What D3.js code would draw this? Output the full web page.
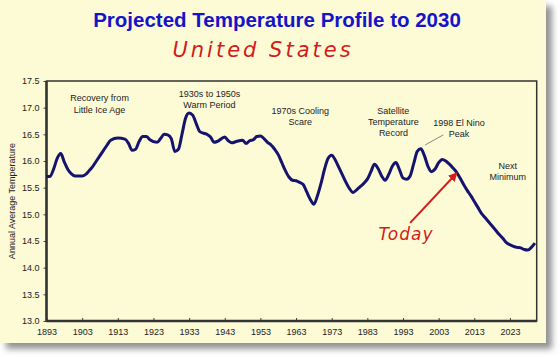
<!DOCTYPE html>
<html><head><meta charset="utf-8">
<script src="https://cdn.jsdelivr.net/npm/d3@7"></script>
<style>body{margin:0;background:#fff}svg{display:block}</style>
</head><body>
<script>
const years = [1893,1894,1895,1896,1897,1898,1899,1900,1901,1903,1904,1905,1906,1907,1908,1909,1910,1911,1913,1915,1916,1917,1918,1919,1920,1921,1922,1924,1925,1926,1927,1928,1929,1930,1931,1932,1933,1934,1935,1936,1938,1939,1940,1941,1943,1944,1945,1946,1948,1949,1950,1951,1952,1953,1954,1955,1956,1957,1958,1959,1960,1961,1962,1963,1964,1965,1966,1967,1968,1969,1970,1971,1972,1973,1974,1975,1976,1977,1978,1979,1980,1981,1982,1983,1984,1985,1986,1987,1988,1989,1990,1991,1992,1993,1994,1995,1996,1997,1998,1999,2000,2001,2002,2003,2004,2005,2006,2007,2008,2009,2010,2011,2012,2013,2014,2015,2016,2017,2018,2019,2020,2021,2022,2023,2024,2025,2026,2027,2028,2029,2030];
const temps = [15.71,15.71,15.85,16.05,16.14,15.98,15.84,15.76,15.72,15.72,15.75,15.82,15.90,16.00,16.10,16.20,16.30,16.39,16.43,16.41,16.33,16.20,16.22,16.37,16.46,16.46,16.40,16.35,16.42,16.50,16.49,16.42,16.18,16.22,16.50,16.80,16.90,16.86,16.70,16.55,16.50,16.45,16.35,16.37,16.45,16.38,16.34,16.36,16.39,16.33,16.38,16.40,16.46,16.47,16.42,16.35,16.30,16.22,16.12,15.97,15.82,15.70,15.64,15.63,15.60,15.56,15.42,15.28,15.19,15.35,15.58,15.85,16.05,16.11,16.02,15.88,15.74,15.60,15.48,15.41,15.46,15.52,15.58,15.66,15.80,15.94,15.86,15.72,15.64,15.75,15.90,15.97,15.84,15.68,15.66,15.72,15.95,16.18,16.23,16.10,15.90,15.80,15.85,15.97,16.03,16.00,15.94,15.87,15.79,15.68,15.56,15.45,15.35,15.24,15.13,15.02,14.94,14.86,14.78,14.70,14.62,14.55,14.47,14.43,14.40,14.38,14.37,14.34,14.33,14.38,14.46];
const xTicks = [1893,1903,1913,1923,1933,1943,1953,1963,1973,1983,1993,2003,2013,2023];
const yTicks = [13.0,13.5,14.0,14.5,15.0,15.5,16.0,16.5,17.0,17.5];
const titleText = "Projected Temperature Profile to 2030";
const subtitleText = "United States";
const yLabel = "Annual Average Temperature";
const notes = [
  {lines:["Recovery from","Little Ice Age"], x:1907.9, y:17.176},
  {lines:["1930s to 1950s","Warm Period"], x:1938.7, y:17.256},
  {lines:["1970s Cooling","Scare"], x:1964.2, y:16.937},
  {lines:["Satellite","Temperature","Record"], x:1990.3, y:16.943},
  {lines:["1998 El Nino","Peak"], x:2008.7, y:16.718},
  {lines:["Next","Minimum"], x:2022.4, y:15.906}
];

const W = 560, H = 357;
const svg = d3.select("body").append("svg").attr("width", W).attr("height", H);
const defs = svg.append("defs");
const f = defs.append("filter").attr("id","sh").attr("x","-5%").attr("y","-5%").attr("width","115%").attr("height","115%");
f.append("feDropShadow").attr("dx",6).attr("dy",6).attr("stdDeviation",3).attr("flood-color","#777").attr("flood-opacity",0.8);
defs.append("marker").attr("id","ah").attr("viewBox","0 0 10 10").attr("refX",9).attr("refY",5)
  .attr("markerWidth",4.5).attr("markerHeight",4.5).attr("orient","auto")
  .append("path").attr("d","M0,0L10,5L0,10Z").attr("fill","#d41c1c");

svg.append("rect").attr("x",0).attr("y",0).attr("width",546).attr("height",343)
  .attr("fill","#fdfbd6").attr("filter","url(#sh)");

const m = {l:46.5, r:536.7, t:81, b:321};
const x = d3.scaleLinear().domain([1893, 2030.5]).range([m.l, m.r]);
const y = d3.scaleLinear().domain([13, 17.5]).range([m.b, m.t]);

svg.append("text").attr("x",277).attr("y",27).attr("text-anchor","middle")
  .attr("font-family","Liberation Sans, Arial, sans-serif").attr("font-weight","bold")
  .attr("font-size",20.5).attr("fill","#1414c8").text(titleText);
svg.append("text").attr("x",263).attr("y",57).attr("text-anchor","middle")
  .attr("font-family","DejaVu Sans, sans-serif").attr("font-style","italic")
  .attr("font-size",21).attr("letter-spacing",3).attr("fill","#d01c1c").text(subtitleText);

// axes
const ya = svg.append("g").attr("transform",`translate(${m.l},0)`)
  .call(d3.axisLeft(y).tickValues(yTicks).tickFormat(d3.format(".1f")).tickSize(3).tickPadding(4));
const xa = svg.append("g").attr("transform",`translate(0,${m.b})`)
  .call(d3.axisBottom(x).tickValues(xTicks).tickFormat(d3.format("d")).tickSize(-3).tickPadding(8));
[ya,xa].forEach(g=>{
  g.select(".domain").remove();
  g.selectAll("line").attr("stroke","#444");
  g.selectAll("text").attr("font-family","Liberation Sans, Arial, sans-serif").attr("font-size",9).attr("fill","#222");
});
svg.append("rect").attr("x",m.l).attr("y",m.t).attr("width",m.r-m.l).attr("height",m.b-m.t)
  .attr("fill","none").attr("stroke","#333").attr("stroke-width",1.5);
svg.append("line").attr("x1",m.l).attr("x2",m.l).attr("y1",m.t).attr("y2",m.b).attr("stroke","#333").attr("stroke-width",2.5);
svg.append("line").attr("x1",m.l).attr("x2",m.r).attr("y1",m.b).attr("y2",m.b).attr("stroke","#333").attr("stroke-width",2.5);

svg.append("text").attr("transform",`translate(15,${(m.t+m.b)/2}) rotate(-90)`).attr("text-anchor","middle")
  .attr("font-family","Liberation Sans, Arial, sans-serif").attr("font-size",9).attr("fill","#222").text(yLabel);

// line
const data = years.map((yr,i)=>({yr, t:temps[i]}));
svg.append("path").datum(data)
  .attr("d", d3.line().x(d=>x(d.yr)).y(d=>y(d.t)).curve(d3.curveMonotoneX))
  .attr("fill","none").attr("stroke","#14146e").attr("stroke-width",3).attr("stroke-linejoin","round");

// annotations
notes.forEach(n=>{
  const t = svg.append("text").attr("text-anchor","middle")
    .attr("font-family","Liberation Sans, Arial, sans-serif").attr("font-size",9).attr("fill","#222");
  n.lines.forEach((l,i)=>t.append("tspan").attr("x",x(n.x)).attr("y",y(n.y)+3+i*11.3).text(l));
});
// leader for El Nino
svg.append("line").attr("x1",x(1999.2)).attr("y1",y(16.30)).attr("x2",x(2004.3)).attr("y2",y(16.49))
  .attr("stroke","#888").attr("stroke-width",1);

// Today arrow
svg.append("line").attr("x1",x(1995.0)).attr("y1",y(14.84)).attr("x2",x(2008.1)).attr("y2",y(15.775))
  .attr("stroke","#d41c1c").attr("stroke-width",2).attr("marker-end","url(#ah)");
svg.append("text").attr("x",406).attr("y",240).attr("text-anchor","middle")
  .attr("font-family","DejaVu Sans, sans-serif").attr("font-style","italic")
  .attr("font-size",17).attr("letter-spacing",1).attr("fill","#d01c1c").text("Today");
</script>
</body></html>
